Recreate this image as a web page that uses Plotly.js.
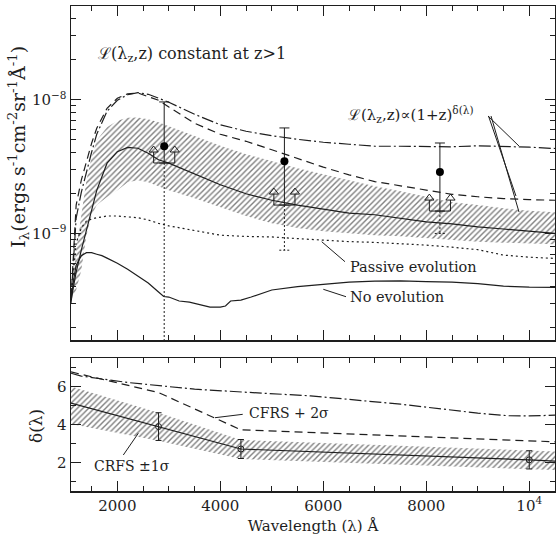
<!DOCTYPE html>
<html><head><meta charset="utf-8">
<script src="https://cdn.plot.ly/plotly-3.0.1.min.js"></script>
<style>html,body{margin:0;padding:0;background:#fff;}#chart{width:556px;height:535px;}</style>
</head><body><div id="chart"></div><script>
// ---- Top panel data (intensity in units of 1e-9 ergs s^-1 cm^-2 sr^-1 Å^-1) ----
const lam = [1100,1200,1300,1400,1500,1600,1800,2000,2200,2400,2600,2800,3000,3500,4000,4500,5000,5500,6000,6500,7000,7500,8000,8500,9000,9500,10000,10500];
const upperDelta = [0.318,1.30,2.03,2.92,4.04,5.51,8.18,9.88,10.86,11.28,10.95,10.26,9.55,7.77,6.48,5.80,5.37,5.05,4.80,4.64,4.48,4.48,4.44,4.44,4.52,4.48,4.41,4.31];
const plus2Sigma = [0.318,1.63,2.50,3.52,4.72,6.11,8.61,10.22,11.05,11.2,10.58,9.88,8.79,6.65,5.51,4.88,4.22,3.61,3.13,2.74,2.44,2.27,2.12,1.96,1.88,1.82,1.79,1.77];
const central = [0.318,0.514,0.750,1.06,1.52,2.10,3.35,4.08,4.39,4.33,3.97,3.55,3.35,2.77,2.31,1.98,1.77,1.63,1.52,1.42,1.38,1.30,1.22,1.18,1.12,1.08,1.04,1.00];
const bandHigh = [0.318,0.750,1.37,2.50,3.71,4.97,6.21,6.95,7.31,7.34,7.13,6.77,6.32,5.32,4.52,3.91,3.46,3.07,2.77,2.50,2.25,2.07,1.87,1.71,1.63,1.54,1.48,1.44];
const bandLow = [0.318,0.378,0.532,0.971,1.37,1.63,1.87,2.10,2.41,2.50,2.41,2.25,2.10,1.83,1.57,1.35,1.19,1.10,1.04,1.005,0.971,0.955,0.922,0.891,0.869,0.854,0.847,0.832];
const passive = [0.318,0.847,1.10,1.24,1.28,1.31,1.35,1.35,1.33,1.31,1.26,1.19,1.14,1.05,0.971,0.950,0.942,0.915,0.888,0.869,0.858,0.843,0.818,0.790,0.757,0.689,0.665,0.651];
const lamNoEvo = [1100,1150,1200,1300,1400,1500,1600,1700,1800,2000,2200,2400,2600,2800,2900,3000,3200,3400,3600,3800,4000,4100,4200,4400,4600,4800,5000,5500,6000,6500,7000,7500,8000,8500,9000,9500,10000,10500];
const noEvo = [0.302,0.448,0.580,0.683,0.719,0.719,0.700,0.683,0.654,0.600,0.541,0.480,0.426,0.365,0.338,0.335,0.313,0.307,0.294,0.282,0.282,0.287,0.313,0.318,0.335,0.358,0.378,0.401,0.415,0.433,0.441,0.443,0.437,0.433,0.422,0.404,0.397,0.395];
// observations
const obsLam = [2910, 5245, 8265];
const obsVal = [4.48, 3.46, 2.88];
const obsHigh = [9.60, 6.14, 4.74];
const obsLimit = [3.36, 1.63, 1.47];
const obsLow = [0.05, 0.750, 1.00];

// ---- Bottom panel data ----
const dLam = [1100, 2800, 4400, 10000, 10500];
const dFit = [5.13, 3.89, 2.71, 2.14, 2.07];
const dHigh = [6.0, 4.62, 3.19, 2.62, 2.58];
const dLow = [4.02, 3.14, 2.18, 1.65, 1.60];
const dPlus2 = [6.77, 5.68, 3.72, 3.14, 3.09];
const dUpLam = [1100,1300,2200,3500,4800,5750,7500,9000,9600,10000,10500];
const dUp = [6.7,6.55,6.21,5.86,5.65,5.51,5.07,4.6,4.46,4.45,4.49];
const dMeasLam = [2800, 4400, 10000];
const dMeas = [3.89, 2.71, 2.14];
const dErr = [0.73, 0.50, 0.48];

const xTicks = [2000,4000,6000,8000,10000];
const xTickText = ['2000','4000','6000','8000','10<sup>4</sup>'];
const yTopTicks = [1e-9, 1e-8];
const yTopTickText = ['10<sup>−9</sup>','10<sup>−8</sup>'];
const yBotTicks = [2,4,6];

// ---- styling ----
const INK = '#1e1e1e';
const FONT = 'DejaVu Serif';
const U = 1e-9;
const sc = a => a.map(v => v*U);
const LW = 1.2;

const pattern = {shape:'/', fgcolor:'#000', bgcolor:'rgba(0,0,0,0)', size:4, solidity:0.35, fillmode:'overlay'};
const traces = [];
const base = {type:'scatter', mode:'lines', showlegend:false, hoverinfo:'skip'};

// top band
traces.push({...base, x:lam, y:sc(bandLow), line:{width:0, color:'rgba(0,0,0,0)'}});
traces.push({...base, x:lam, y:sc(bandHigh), fill:'tonexty', fillcolor:'rgba(0,0,0,0)', fillpattern:pattern, line:{width:0, color:'rgba(0,0,0,0)'}});
traces.push({...base, x:lam, y:sc(central), line:{color:INK, width:LW}});
traces.push({...base, x:lam, y:sc(plus2Sigma), line:{color:INK, width:LW, dash:'8px,5px'}});
traces.push({...base, x:lam, y:sc(upperDelta), line:{color:INK, width:LW, dash:'12px,3px,2px,3px'}});
traces.push({...base, x:lam, y:sc(passive), line:{color:INK, width:LW, dash:'2px,3px'}});
traces.push({...base, x:lamNoEvo, y:sc(noEvo), line:{color:INK, width:LW}});

// observation lower dotted extension + caps, lower-limit brackets with arrows
const capHW = 100, brHW = 205;
const dx = [], dy = [], cx = [], cy = [], bx = [], by = [], ax = [], ay = [];
const stemF = Math.pow(10, 11/134), headF = Math.pow(10, 13/134);
obsLam.forEach((l,i) => {
  dx.push(l, l, null); dy.push(obsLimit[i]*U, obsLow[i]*U, null);
  cx.push(l-capHW, l+capHW, null); cy.push(obsLow[i]*U, obsLow[i]*U, null);
  bx.push(l-brHW, l-brHW, l+brHW, l+brHW, null);
  by.push(obsLimit[i]*U*stemF, obsLimit[i]*U, obsLimit[i]*U, obsLimit[i]*U*stemF, null);
  ax.push(l-brHW, l+brHW); ay.push(obsLimit[i]*U*headF, obsLimit[i]*U*headF);
});
traces.push({...base, x:dx, y:dy, line:{color:INK, width:1, dash:'2px,2px'}});
traces.push({...base, x:cx, y:cy, line:{color:INK, width:1, dash:'2px,2px'}});
traces.push({...base, x:bx, y:by, line:{color:INK, width:1}});
traces.push({...base, mode:'markers', x:ax, y:ay, marker:{symbol:'triangle-up-open', size:8, color:INK, line:{width:1, color:INK}}});
traces.push({...base, mode:'markers', x:obsLam, y:sc(obsVal),
  marker:{symbol:'circle', size:8, color:'#000'},
  error_y:{type:'data', symmetric:false, array:obsHigh.map((h,i)=>(h-obsVal[i])*U), arrayminus:obsVal.map((v,i)=>(v-obsLimit[i])*U), width:5, thickness:1, color:INK}});

// bottom panel
const b2 = {...base, xaxis:'x2', yaxis:'y2'};
traces.push({...b2, x:dLam, y:dLow, line:{width:0, color:'rgba(0,0,0,0)'}});
traces.push({...b2, x:dLam, y:dHigh, fill:'tonexty', fillcolor:'rgba(0,0,0,0)', fillpattern:pattern, line:{width:0, color:'rgba(0,0,0,0)'}});
traces.push({...b2, x:dLam, y:dFit, line:{color:INK, width:LW}});
traces.push({...b2, x:dLam, y:dPlus2, line:{color:INK, width:LW, dash:'8px,5px'}});
traces.push({...b2, x:dUpLam, y:dUp, line:{color:INK, width:LW, dash:'12px,3px,2px,3px'}});
traces.push({...b2, mode:'markers', x:dMeasLam, y:dMeas, marker:{symbol:'circle-open', size:6, color:INK, line:{width:1}},
  error_y:{type:'data', array:dErr, width:3, thickness:1, color:INK}});

const minorX = [1500,2500,3000,3500,4500,5000,5500,6500,7000,7500,8500,9000,9500];
const minorYTop = [];
[1e-10,1e-9,1e-8].forEach(d => { for (let k=2;k<=9;k++) { const v=k*d; if (v<=5e-8 && v>=1.6e-10) minorYTop.push(v); } });

const axisCommon = {showline:true, linecolor:INK, linewidth:1.5, mirror:'ticks', ticks:'inside', ticklen:10, tickwidth:1, tickcolor:INK,
  showgrid:false, zeroline:false, automargin:false, tickfont:{family:FONT, size:15, color:INK}};
const minorCommon = {tickmode:'array', ticks:'inside', ticklen:5, tickwidth:1, tickcolor:INK, showgrid:false};

const txt = (x, y, text, size, extra) => Object.assign({xref:'paper', yref:'paper', x, y, xanchor:'left', yanchor:'middle', showarrow:false, text, font:{family:FONT, size, color:INK}}, extra||{});

const layout = {
  width:556, height:535, margin:{l:71, r:1, t:6, b:44}, paper_bgcolor:'#fff', plot_bgcolor:'#fff',
  font:{family:FONT, color:INK, size:14},
  xaxis:{...axisCommon, domain:[0,1], anchor:'y', range:[1100,10500], tickmode:'array', tickvals:xTicks, showticklabels:false,
    minor:{...minorCommon, tickvals:minorX}},
  yaxis:{...axisCommon, domain:[0.3113,1], anchor:'x', type:'log', range:[Math.log10(1.6e-10), Math.log10(5e-8)],
    tickmode:'array', tickvals:yTopTicks, ticktext:yTopTickText, minor:{...minorCommon, tickvals:minorYTop}},
  xaxis2:{...axisCommon, domain:[0,1], anchor:'y2', matches:'x', range:[1100,10500], tickmode:'array', tickvals:xTicks, ticktext:xTickText,
    minor:{...minorCommon, tickvals:minorX},
    title:{text:'Wavelength (λ) Å', font:{family:FONT, size:15, color:INK}, standoff:7}},
  yaxis2:{...axisCommon, domain:[0,0.2742], anchor:'x2', range:[0.5,7.5], tickmode:'array', tickvals:yBotTicks,
    minor:{...minorCommon, tickvals:[1,3,5,7]}},
  annotations:[
    txt(-0.108, 0.7093, 'I<sub>λ</sub>(ergs s<sup>-1</sup>cm<sup>-2</sup>sr<sup>-1</sup>Å<sup>-1</sup>)', 19, {xanchor:'center', textangle:-90}),
    txt(-0.0723, 0.134, 'δ(λ)', 17, {xanchor:'center', textangle:-90}),
    txt(0.052, 0.899, 'ℒ(λ<sub>z</sub>,z) constant at z&gt;1', 16),
    txt(0.568, 0.7753, 'ℒ(λ<sub>z</sub>,z)∝(1+z)<sup>δ(λ)</sup>', 15),
    txt(0.5723, 0.4619, 'Passive evolution', 14.5),
    txt(0.5723, 0.4006, 'No evolution', 14.5),
    txt(0.363, 0.1602, 'CFRS + 2σ', 14),
    txt(0.0428, 0.0515, 'CRFS ±1σ', 14)
  ],
  shapes:[
    {type:'line', xref:'paper', yref:'paper', x0:0.8616, y0:0.7732, x1:0.9256, y1:0.7113, line:{color:INK, width:1}},
    {type:'line', xref:'paper', yref:'paper', x0:0.8626, y0:0.7732, x1:0.9194, y1:0.6082, line:{color:INK, width:1}},
    {type:'line', xref:'paper', yref:'paper', x0:0.8678, y0:0.7732, x1:0.9256, y1:0.5753, line:{color:INK, width:1}},
    {type:'line', xref:'paper', yref:'paper', x0:0.518, y0:0.514, x1:0.5661, y1:0.4728, line:{color:INK, width:1}},
    {type:'line', xref:'paper', yref:'paper', x0:0.5213, y0:0.4159, x1:0.5682, y1:0.4006, line:{color:INK, width:1}},
    {type:'line', xref:'paper', yref:'paper', x0:0.2975, y0:0.1511, x1:0.3548, y1:0.1581, line:{color:INK, width:1}},
    {type:'line', xref:'paper', yref:'paper', x0:0.1081, y0:0.0742, x1:0.139, y1:0.119, line:{color:INK, width:1}}
  ]
};
Plotly.newPlot('chart', traces, layout, {staticPlot:true, displayModeBar:false});
</script></body></html>
